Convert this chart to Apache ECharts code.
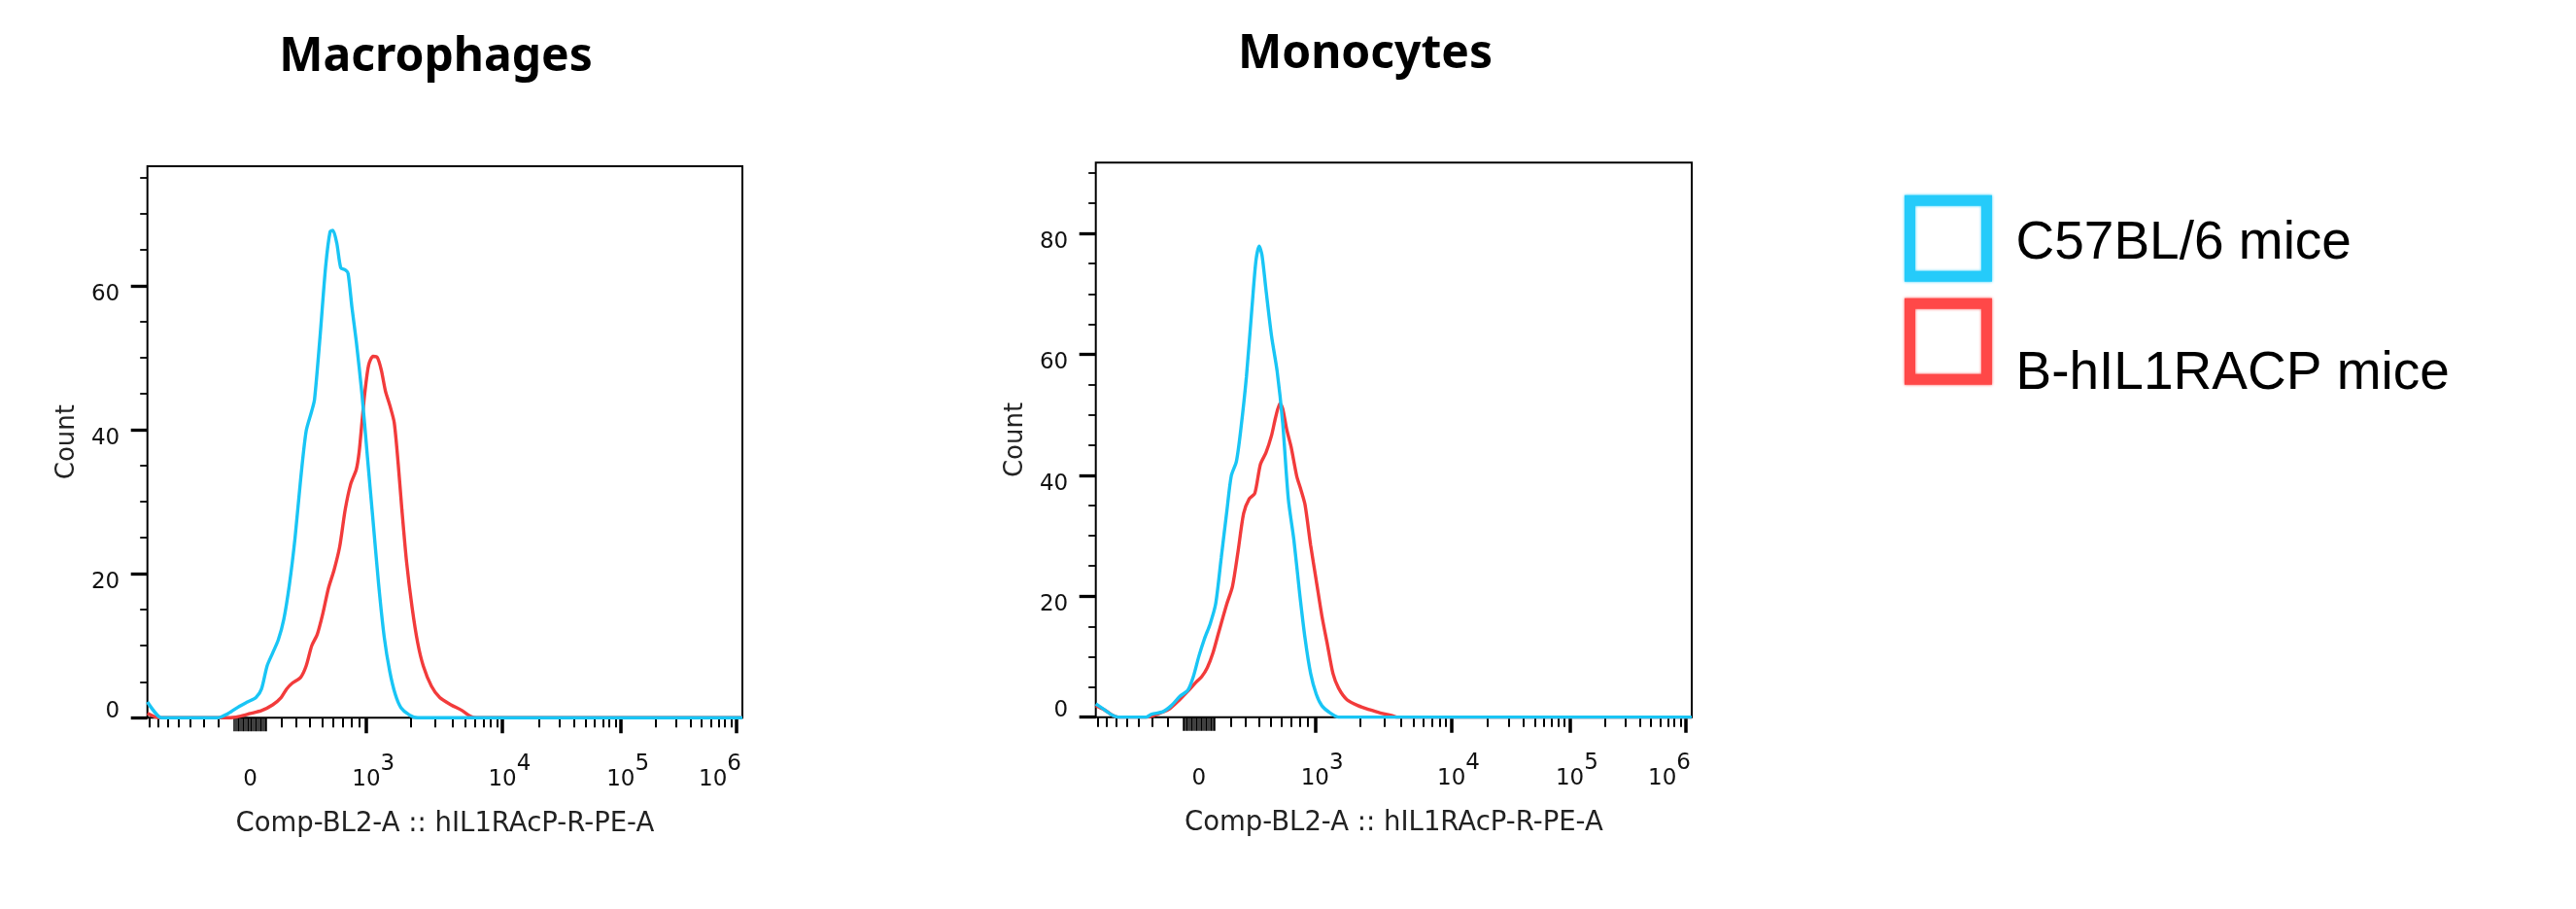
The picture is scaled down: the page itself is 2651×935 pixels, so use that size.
<!DOCTYPE html>
<html>
<head>
<meta charset="utf-8">
<script src="https://cdn.jsdelivr.net/npm/echarts@6/dist/echarts.min.js"></script>
<style>
html,body{margin:0;padding:0;background:#fff;}
#c{width:2651px;height:935px;}
</style>
</head>
<body>
<div id="c"></div>
<script>
// ---------------- data ----------------
const SERIES_NAMES = ['C57BL/6 mice', 'B-hIL1RACP mice'];
const PANEL_TITLES = ['Macrophages', 'Monocytes'];
const X_AXIS_NAME = 'Comp-BL2-A :: hIL1RAcP-R-PE-A';
const Y_AXIS_NAME = 'Count';

// histograms: [display channel (0-256 across the logicle axis), count]
const MAC_C57 = [[0,2.2],[6,0],[8,0],[28,0],[30,0],[34.8,0.6],[39.6,1.6],[43.1,2.2],[46.7,2.8],[49.1,4],[51.5,7.2],[53.9,9],[56.3,10.8],[58.7,13.7],[61.1,18.5],[63.5,24.9],[65.9,33],[68.3,39.8],[70.7,42.6],[71.9,44.2],[74.3,53],[76.7,62.7],[78.6,67.5],[79.8,67.7],[81.5,65.9],[83.2,62.5],[85.1,62.2],[86.3,61.8],[88.0,57],[89.9,52.2],[92.3,45],[94.7,36.1],[97.1,27.3],[99.5,18.5],[101.9,11.2],[104.3,6.4],[106.7,3.2],[109.1,1.4],[112.7,0.4],[116.3,0],[118,0],[256,0]];
const MAC_HIL = [[0,0.6],[4.8,0],[6.5,0],[33,0],[34.8,0],[39.6,0.2],[44.3,0.6],[49.1,1],[53.9,1.8],[57.5,2.8],[59.9,4],[62.3,4.8],[65.9,5.6],[68.3,7.2],[70.7,10],[73.1,11.6],[75.5,14.5],[77.9,18],[80.3,20.5],[82.7,23.7],[85.1,28.9],[87.5,32.5],[89.9,34.5],[91.1,36.9],[92.3,41],[93.5,45],[95.2,49],[97.1,50.2],[99.0,50],[100.7,48.2],[102.4,45.4],[104.3,43.4],[106.2,41],[107.9,35.3],[109.5,28.9],[111.5,21.7],[113.9,15.3],[116.3,10.4],[118.7,7.2],[122.2,4.4],[125.8,2.8],[130.6,1.8],[135.4,1],[139.0,0.2],[141.4,0],[143,0],[256,0]];
const MONO_C57 = [[0,2.2],[3.6,1.25],[7.2,0.3],[9.6,0],[11.5,0],[20,0],[21.6,0],[24.0,0.5],[28.8,0.9],[32.4,1.9],[36.0,3.4],[39.6,4.5],[41.9,6.7],[44.3,10.1],[46.7,13],[49.1,15.4],[51.5,18.75],[53.9,26.4],[56.3,34.1],[58.2,39.9],[60.4,42.3],[62.3,47.6],[64.7,56.3],[67.1,67.8],[68.8,75.5],[70.2,77.9],[71.4,76.4],[73.1,70.7],[75.5,63],[77.9,57.2],[80.3,48.6],[82.7,36.1],[85.1,29.3],[87.5,20.7],[89.9,13],[92.3,7.2],[94.7,3.8],[97.1,1.9],[100.7,0.7],[104.3,0],[106,0],[256,0]];
const MONO_HIL = [[0,1.9],[3.6,1.25],[7.2,0.3],[9.6,0],[11.5,0],[20,0],[21.6,0],[26.4,0.5],[31.2,1.25],[36.0,2.9],[39.6,4.3],[43.1,5.8],[45.5,6.7],[47.9,8.2],[50.3,10.6],[52.7,13.9],[56.3,18.75],[58.7,21.6],[61.1,27.4],[63.5,33.7],[65.9,36.1],[68.3,37],[70.7,41.8],[73.1,43.75],[75.5,46.6],[77.2,49.5],[79.1,51.9],[80.3,51],[82.0,47.6],[83.9,44.7],[86.3,39.9],[88.2,37.5],[89.9,35.1],[92.3,28.4],[94.7,22.6],[97.1,16.8],[99.5,12],[101.9,7.2],[104.3,4.8],[107.9,2.9],[112.7,1.9],[117.5,1.25],[122.2,0.7],[127.0,0.3],[129.4,0],[131,0],[256,0]];

// axis ticks (fluorescence values on the biexponential / logicle scale)
const X_LABEL_VALUES = [0, 1e3, 1e4, 1e5, 1e6];
const X_LABEL_EXP = ['', '3', '4', '5', '6'];
const X_MAJOR_TICKS = [1e3, 1e4, 1e5, 1e6];
const X_MINOR_TICKS = [-800,-700,-600,-500,-400,-300,-200,200,300,400,500,600,700,800,900,2000,3000,4000,5000,6000,7000,8000,9000,20000,30000,40000,50000,60000,70000,80000,90000,200000,300000,400000,500000,600000,700000,800000,900000];
const X_LINEAR_TICKS = [-100,-90,-80,-70,-60,-50,-40,-30,-20,-10,0,10,20,30,40,50,60,70,80,90,100];
const MAC_Y_MAJOR = [0, 20, 40, 60];
const MAC_Y_MINOR = [5,10,15,25,30,35,45,50,55,65,70,75];
const MONO_Y_MAJOR = [0, 20, 40, 60, 80];
const MONO_Y_MINOR = [5,10,15,25,30,35,45,50,55,65,70,75,85,90];
const MAC_Y_MAX = 76.6;
const MONO_Y_MAX = 91.7;

// logicle parameters of the display
const T_TOP = 1048576, W_DEC = 1, M_DEC = 5.24;
const X_VIEW_MIN = -820, X_VIEW_MAX = 1.13e6;
const N_CH = 256;

// ---------------- logicle scale ----------------
function makeLogicle(T, W, M) {
  const w = W * Math.LN10, m = M * Math.LN10;
  let lo = 1.0001, hi = 1000;
  for (let i = 0; i < 200; i++) {
    const mid = (lo + hi) / 2;
    const f = 2 * mid * Math.log(mid) / (mid + 1);
    if (f < w) lo = mid; else hi = mid;
  }
  const p = (lo + hi) / 2, k = T * Math.exp(-(m - w));
  const S = u => k * (Math.exp(u) - p * p * Math.exp(-u / p) + p * p - 1);
  return v => {
    const a = Math.abs(v);
    let l = 0, h = 40;
    for (let i = 0; i < 200; i++) {
      const mid = (l + h) / 2;
      if (S(mid) < a) l = mid; else h = mid;
    }
    return Math.sign(v) * (l + h) / 2;
  };
}
const L = makeLogicle(T_TOP, W_DEC, M_DEC);
const L0 = L(X_VIEW_MIN), L1 = L(X_VIEW_MAX);
const ch = v => (L(v) - L0) / (L1 - L0) * N_CH;

const X_LABEL_CH = X_LABEL_VALUES.map(ch);

// ---------------- styling ----------------
const F = 'DejaVu Sans';
const FS = 23;
const CYAN = '#19c5f5', RED = '#f23b3b';
const CYAN_L = '#25cbfa', RED_L = '#ff4848';
const TXT = '#111';

const PANELS = [
  {title: PANEL_TITLES[0], tx: 448.5, ty: 59.5, left: 151.7, top: 171, width: 612.3, height: 567.3,
   yMax: MAC_Y_MAX, yMajor: MAC_Y_MAJOR, yMinor: MAC_Y_MINOR, c57: MAC_C57, hil: MAC_HIL},
  {title: PANEL_TITLES[1], tx: 1405, ty: 56, left: 1127.7, top: 167.3, width: 613.3, height: 570.4,
   yMax: MONO_Y_MAX, yMajor: MONO_Y_MAJOR, yMinor: MONO_Y_MINOR, c57: MONO_C57, hil: MONO_HIL}
];

function xLabelFormatter(v) {
  let best = 0, bd = Infinity;
  X_LABEL_CH.forEach((c, i) => { const d = Math.abs(c - v); if (d < bd) { bd = d; best = i; } });
  const e = X_LABEL_EXP[best];
  if (!e) return '{z|0}';
  const last = best === X_LABEL_EXP.length - 1;
  return '{p|' + e + '}{b|10}{' + (last ? 't' : 's') + '|' + e + '}';
}
const tok = extra => Object.assign({fontFamily: F, fontSize: FS, color: TXT}, extra);

const legendText = {fontFamily: 'Liberation Sans', fontSize: 55, color: '#000', padding: [0, 0, 0, 25]};
const legendBase = {padding: 0, orient: 'vertical', itemWidth: 79, itemHeight: 78, selectedMode: false};
const frameLegend = (name, color, top) => Object.assign({}, legendBase, {
  left: 1960, top: top, textStyle: legendText, formatter: () => ' ',
  data: [{name: name, icon: 'rect',
    itemStyle: {color: 'rgba(255,255,255,0)', borderColor: color, borderWidth: 11, shadowBlur: 3, shadowColor: color}}]
});
const labelLegend = (name, top) => Object.assign({}, legendBase, {
  left: 1965.5, top: top, textStyle: legendText,
  data: [{name: name, icon: 'rect',
    itemStyle: {color: 'rgba(255,255,255,0)', borderColor: 'rgba(255,255,255,0)', borderWidth: 0, shadowBlur: 0}}]
});

const option = {
  backgroundColor: '#fff',
  animation: false,
  title: PANELS.map(p => ({
    text: p.title, left: p.tx, top: p.ty, padding: 0,
    textAlign: 'center', textVerticalAlign: 'middle',
    textStyle: {fontFamily: 'Noto Sans', fontWeight: 'bold', fontSize: 48, color: '#000'}
  })),
  grid: PANELS.map(p => ({
    left: p.left, top: p.top, width: p.width, height: p.height,
    show: true, borderColor: '#000', borderWidth: 2, backgroundColor: 'rgba(0,0,0,0)',
    outerBoundsMode: 'none'
  })),
  legend: [
    frameLegend(SERIES_NAMES[0], CYAN_L, 200.7),
    frameLegend(SERIES_NAMES[1], RED_L, 306.7),
    labelLegend(SERIES_NAMES[0], 212),
    labelLegend(SERIES_NAMES[1], 345.7)
  ],
  xAxis: [],
  yAxis: [],
  series: []
};

PANELS.forEach((p, gi) => {
  const base = {
    type: 'value', gridIndex: gi, min: 0, max: N_CH, position: 'bottom', offset: 0,
    axisLine: {show: false}, splitLine: {show: false}, axisLabel: {show: false}
  };
  option.xAxis.push(Object.assign({}, base, {
    axisTick: {show: true, customValues: X_MAJOR_TICKS.map(ch), length: 16, lineStyle: {color: '#000', width: 3.5}},
    axisLabel: {
      show: true, customValues: X_LABEL_CH, margin: 35.9, formatter: xLabelFormatter,
      rich: {
        z: tok({padding: [16, 0, 0, 0]}),
        b: tok({verticalAlign: 'bottom'}),
        s: tok({verticalAlign: 'top', padding: [0, 0, 16, 0]}),
        t: tok({verticalAlign: 'top', padding: [0, 48, 16, 0]}),
        p: tok({verticalAlign: 'top', padding: [0, 0, 16, 0], color: 'rgba(0,0,0,0)'})
      }
    },
    name: X_AXIS_NAME, nameLocation: 'middle', nameGap: 109.2,
    nameTextStyle: {fontFamily: F, fontSize: 27.5, color: '#222', verticalAlign: 'middle'}
  }));
  option.xAxis.push(Object.assign({}, base, {
    axisTick: {show: true, customValues: X_MINOR_TICKS.map(ch), length: 10, lineStyle: {color: '#000', width: 2}}
  }));
  option.xAxis.push(Object.assign({}, base, {
    axisTick: {show: true, customValues: X_LINEAR_TICKS.map(ch), length: 14, lineStyle: {color: '#000', width: 1.5}}
  }));

  const ybase = {
    type: 'value', gridIndex: gi, min: 0, max: p.yMax, position: 'left', offset: 0,
    axisLine: {show: false}, splitLine: {show: false}, axisLabel: {show: false}
  };
  option.yAxis.push(Object.assign({}, ybase, {
    axisTick: {show: true, customValues: p.yMajor, length: 17, lineStyle: {color: '#000', width: 3.3}},
    axisLabel: {
      show: true, customValues: p.yMajor, margin: 28.5,
      formatter: v => (v === 0 ? '{z|0}' : '{d|' + v + '}'),
      rich: {
        z: tok({padding: [0, 0, 13, 0]}),
        d: tok({padding: [18, 0, 0, 0]})
      }
    },
    name: Y_AXIS_NAME, nameLocation: 'middle', nameGap: 82.5, nameRotate: 90,
    nameTextStyle: {fontFamily: F, fontSize: 26, color: '#222', verticalAlign: 'middle'}
  }));
  option.yAxis.push(Object.assign({}, ybase, {
    axisTick: {show: true, customValues: p.yMinor, length: 7.5, lineStyle: {color: '#000', width: 1.8}}
  }));

  const common = {
    type: 'line', xAxisIndex: gi * 3, yAxisIndex: gi * 2, showSymbol: false, symbol: 'none',
    smooth: 0.25, silent: true
  };
  option.series.push(Object.assign({}, common, {
    name: SERIES_NAMES[1], data: p.hil, z: 3,
    lineStyle: {color: RED, width: 3.4}, itemStyle: {color: RED}
  }));
  option.series.push(Object.assign({}, common, {
    name: SERIES_NAMES[0], data: p.c57, z: 4,
    lineStyle: {color: CYAN, width: 3.4}, itemStyle: {color: CYAN}
  }));
});

const chart = echarts.init(document.getElementById('c'), null, {renderer: 'canvas'});
chart.setOption(option);
</script>
</body>
</html>
